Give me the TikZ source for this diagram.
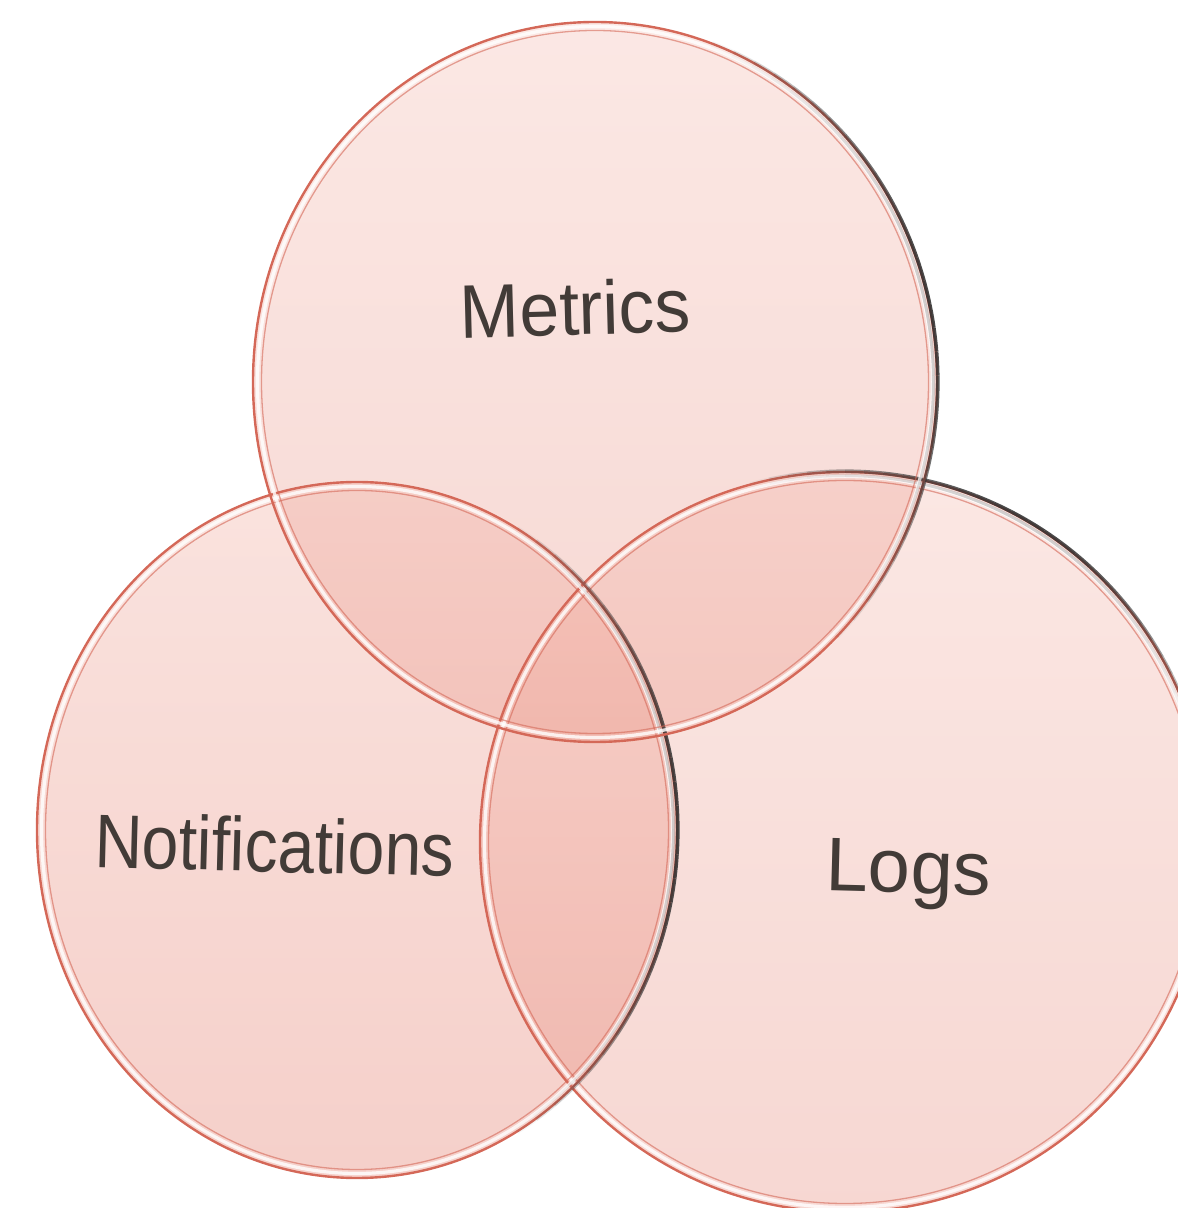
\documentclass[tikz,border=0pt]{standalone}
\usepackage{fontspec}
\setmainfont{Liberation Sans}
\definecolor{pinkT}{RGB}{242,178,166}
\definecolor{pinkB}{RGB}{228,126,110}
\definecolor{ringred}{RGB}{212,104,88}
\definecolor{txtgray}{RGB}{66,59,55}
\tikzset{
  vennlabel/.style={text=txtgray, inner sep=0pt, anchor=base,
    font=\fontsize{76}{80}\selectfont}
}
\newcommand\vennfill[5]{%
  \shade[top color=pinkT, bottom color=pinkB, fill opacity=#5]
    (#1,#2) ellipse[x radius=#3, y radius=#4];}
\newcommand\vennring[6]{%
  \draw[ringred, line width=2.4] (#1,#2) ellipse[x radius=#3, y radius=#4];
  \draw[white, opacity=0.8, line width=3.2] (#1,#2) ellipse[x radius=#3-4.5, y radius=#4-4.5];
  \draw[ringred, opacity=0.6, line width=1.3] (#1,#2) ellipse[x radius=#3-8.5, y radius=#4-8.5];
  \foreach \k in {0,...,29}{%
    \pgfmathsetmacro\aa{#5+(#6-#5)*\k/30}%
    \pgfmathsetmacro\bb{#5+(#6-#5)*(\k+1)/30}%
    \pgfmathsetmacro\op{0.9*sin(180*(\k+0.5)/30)}%
    \draw[black!80, opacity=\op, line width=3.6]
      ({#1+(#3+0.8)*cos(\aa)},{#2+(#4+0.8)*sin(\aa)})
      arc[start angle=\aa, end angle=\bb, x radius=#3+0.8, y radius=#4+0.8];
    \pgfmathsetmacro\op{0.35*sin(180*(\k+0.5)/30)}%
    \draw[black!50, opacity=\op, line width=3]
      ({#1+(#3-3.5)*cos(\aa)},{#2+(#4-3.5)*sin(\aa)})
      arc[start angle=\aa, end angle=\bb, x radius=#3-3.5, y radius=#4-3.5];
  }%
}
\begin{document}
\begin{tikzpicture}[x=1pt,y=1pt]
  \useasboundingbox (0,0) rectangle (1178,1208);
  \clip (0,0) rectangle (1178,1208);
  % fills
  \vennfill{595}{826}{342}{360}{0.30}
  \vennfill{845}{366}{365}{370}{0.31}
  \vennfill{357}{378}{320}{348}{0.37}
  % rings
  \vennring{845}{366}{365}{370}{105}{15}
  \vennring{357}{378}{320}{348}{60}{-60}
  \vennring{595}{826}{342}{360}{70}{-45}
  % labels
  \node[vennlabel, rotate=1.5, xscale=0.94] (metrics) at (576,873) {Metrics};
  \node[vennlabel, rotate=-1.5, xscale=0.87] (notif) at (274,336) {Notifications};
  \node[vennlabel, rotate=-1.5] (logs) at (908,315) {Logs};
\end{tikzpicture}
\end{document}
